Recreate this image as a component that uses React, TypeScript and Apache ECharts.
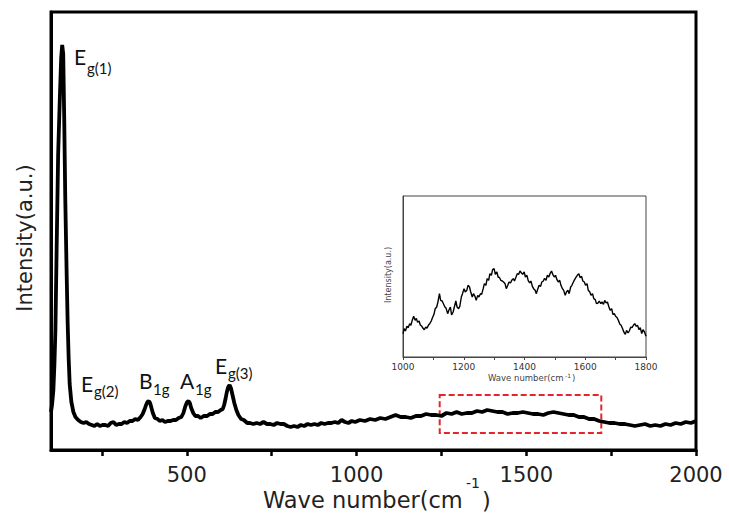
import React, { useEffect, useRef } from "react";
import * as echarts from "echarts";

// ---------- main spectrum (wave number, intensity in arbitrary units) ----------
const mainWave = [
  100, 103, 107, 110, 113, 117, 121, 126, 130, 133, 136, 139, 142, 146, 149, 152, 155, 160, 166, 172,
  180, 188, 196, 204, 212, 220, 228, 236, 244, 252, 260, 268, 276, 284, 292, 300, 308, 316, 324, 332,
  340, 348, 356, 364, 370, 376, 380, 384, 388, 392, 396, 400, 406, 414, 420, 428, 436, 444, 452, 460,
  468, 476, 484, 490, 496, 501, 505, 509, 513, 519, 525, 533, 541, 550, 560, 568, 576, 584, 592, 600,
  606, 610, 614, 618, 622, 626, 630, 634, 640, 646, 652, 660, 668, 678, 686, 696, 706, 716, 726, 736,
  746, 756, 766, 776, 786, 796, 806, 816, 826, 836, 846, 856, 866, 876, 886, 896, 906, 916, 926, 936,
  946, 956, 966, 976, 986, 996, 1010, 1025, 1040, 1055, 1070, 1085, 1100, 1115, 1130, 1145, 1160, 1175, 1190, 1205,
  1220, 1235, 1250, 1265, 1280, 1295, 1310, 1325, 1340, 1355, 1370, 1385, 1400, 1415, 1430, 1445, 1460, 1475, 1490, 1505,
  1520, 1535, 1550, 1565, 1580, 1595, 1610, 1625, 1640, 1655, 1670, 1685, 1700, 1715, 1730, 1745, 1760, 1775, 1790, 1805,
  1820, 1835, 1850, 1865, 1880, 1895, 1910, 1925, 1940, 1955, 1970, 1985, 2000,
];
const mainIntensity = [
  38, 45, 60, 85, 120, 210, 295, 352, 392, 405, 396, 330, 252, 178, 128, 92, 66, 48, 38, 33,
  30, 28, 27, 28, 26, 25, 24, 26, 24, 25, 25, 24, 27, 28, 25, 26, 26, 28, 27, 29,
  29, 31, 30, 33, 36, 41, 45, 48, 49, 47, 42, 37, 32, 31, 29, 30, 28, 29, 29, 30,
  30, 32, 33, 37, 44, 48, 49, 47, 42, 37, 34, 34, 32, 34, 34, 36, 36, 38, 38, 40,
  41, 45, 51, 58, 63, 65, 62, 56, 47, 40, 35, 31, 30, 27, 27, 26, 27, 26, 28, 26,
  26, 25, 27, 26, 26, 24, 23, 24, 23, 25, 24, 26, 25, 26, 25, 27, 26, 27, 27, 28,
  27, 30, 28, 27, 29, 28, 30, 29, 31, 30, 32, 31, 33, 35, 33, 33, 32, 34, 34, 36,
  35, 35, 34, 37, 36, 38, 36, 37, 37, 39, 38, 40, 39, 38, 38, 36, 37, 37, 38, 37,
  36, 36, 35, 37, 38, 37, 36, 35, 35, 33, 33, 31, 31, 29, 28, 27, 27, 26, 26, 25,
  24, 25, 26, 24, 25, 24, 26, 25, 27, 26, 28, 27, 29,
];

// ---------- inset spectrum (1000-1800 cm-1, zoomed intensity) ----------
const insetWave = [
  1000, 1004, 1008, 1013, 1017, 1022, 1026, 1031, 1035, 1040, 1044, 1048, 1053, 1057, 1062, 1066, 1070, 1075, 1079, 1084,
  1088, 1093, 1097, 1102, 1106, 1111, 1115, 1120, 1124, 1129, 1133, 1138, 1142, 1147, 1151, 1156, 1160, 1165, 1169, 1174,
  1178, 1183, 1187, 1192, 1196, 1201, 1205, 1210, 1214, 1219, 1223, 1228, 1232, 1237, 1241, 1246, 1250, 1255, 1259, 1264,
  1268, 1273, 1277, 1282, 1286, 1291, 1295, 1300, 1304, 1309, 1313, 1318, 1322, 1327, 1331, 1336, 1340, 1345, 1349, 1354,
  1358, 1363, 1367, 1372, 1376, 1381, 1385, 1390, 1394, 1399, 1403, 1408, 1412, 1417, 1421, 1426, 1430, 1435, 1439, 1444,
  1448, 1453, 1457, 1462, 1466, 1471, 1475, 1480, 1484, 1489, 1493, 1498, 1502, 1507, 1511, 1516, 1520, 1525, 1529, 1534,
  1538, 1543, 1547, 1552, 1556, 1561, 1565, 1570, 1574, 1579, 1583, 1588, 1592, 1597, 1601, 1606, 1610, 1615, 1619, 1624,
  1628, 1633, 1637, 1642, 1646, 1651, 1655, 1660, 1664, 1669, 1673, 1678, 1682, 1687, 1691, 1696, 1700, 1705, 1709, 1714,
  1718, 1723, 1727, 1732, 1736, 1741, 1745, 1750, 1754, 1759, 1763, 1768, 1772, 1777, 1781, 1786, 1790, 1795, 1800,
];
const insetIntensity = [
  70, 85, 78, 92, 88, 100, 95, 112, 122, 110, 116, 104, 108, 96, 92, 86, 82, 90, 86, 96,
  100, 108, 118, 128, 145, 150, 165, 190, 170, 168, 160, 150, 146, 130, 140, 150, 126, 135, 150, 168,
  150, 145, 152, 180, 190, 205, 195, 200, 215, 210, 195, 180, 190, 182, 170, 185, 180, 190, 188, 205,
  220, 215, 235, 230, 250, 245, 262, 265, 248, 255, 240, 238, 230, 228, 225, 220, 205, 215, 225, 222,
  230, 235, 228, 240, 250, 248, 258, 252, 248, 255, 240, 245, 230, 222, 228, 212, 205, 200, 190, 205,
  215, 212, 225, 228, 236, 230, 245, 240, 250, 258, 248, 240, 245, 232, 225, 230, 215, 205, 200, 185,
  195, 200, 190, 210, 215, 225, 232, 240, 245, 250, 238, 242, 228, 225, 215, 220, 200, 195, 185, 190,
  175, 172, 160, 162, 168, 160, 165, 158, 170, 162, 165, 150, 140, 145, 128, 130, 122, 118, 110, 98,
  95, 85, 75, 68, 80, 72, 78, 90, 88, 96, 100, 92, 95, 82, 88, 70, 82, 75, 62,
];

// axis ticks / labels
const mainTickValues = [250, 500, 750, 1000, 1250, 1500, 1750, 2000];
const mainLabelValues = [500, 1000, 1500, 2000];

// highlighted region (red dashed box) in data units
const boxWave = [1245, 1721];
const boxIntensity = [17, 55];

const AXIS_FONT = "DejaVu Sans";
const PEAK_FONT = "Lato";

function peakLabel(main: string, sub: string, x: number, y: number, subX: number, subY: number) {
  return [
    {
      type: "text",
      x,
      y,
      style: { text: main, fontSize: 21, fontFamily: PEAK_FONT, fill: "#111", align: "left", verticalAlign: "middle" },
    },
    {
      type: "text",
      x: subX,
      y: subY,
      style: { text: sub, fontSize: 15, fontFamily: PEAK_FONT, fill: "#111", align: "left", verticalAlign: "middle" },
    },
  ];
}

export default function App() {
  const ref = useRef<HTMLDivElement>(null);

  useEffect(() => {
    if (!ref.current) return;
    const chart = echarts.init(ref.current, undefined, { renderer: "svg" });

    const mainData = mainWave.map((w, i) => [w, mainIntensity[i]]);
    const insetData = insetWave.map((w, i) => [w, insetIntensity[i]]);

    const option: any = {
      animation: false,
      backgroundColor: "#fff",
      grid: [
        { left: 51, top: 12, width: 645, height: 438, show: true, borderColor: "#000", borderWidth: 3, backgroundColor: "transparent" },
        { left: 403, top: 196, width: 243, height: 161, show: true, borderColor: "#444", borderWidth: 1, backgroundColor: "#fff", z: 5 },
      ],
      xAxis: [
        {
          type: "value",
          gridIndex: 0,
          min: 100,
          max: 2000,
          axisLine: { show: true, lineStyle: { color: "#000", width: 3 } },
          axisTick: { show: true, inside: false, length: 6, lineStyle: { color: "#000", width: 2.5 }, customValues: mainTickValues },
          axisLabel: {
            customValues: mainLabelValues,
            fontSize: 21,
            fontFamily: AXIS_FONT,
            color: "#222",
            margin: 14,
            formatter: (v: number) => String(v),
          },
          splitLine: { show: false },
        },
        {
          type: "value",
          gridIndex: 1,
          min: 1000,
          max: 1800,
          interval: 100,
          axisLine: { show: true, lineStyle: { color: "#444", width: 1 } },
          axisTick: { show: true, inside: false, length: 3, lineStyle: { color: "#444", width: 1 } },
          axisLabel: {
            fontSize: 9,
            fontFamily: AXIS_FONT,
            color: "#333",
            margin: 5,
            formatter: (v: number) => (v % 200 === 0 ? String(v) : ""),
          },
          splitLine: { show: false },
          z: 6,
        },
      ],
      yAxis: [
        {
          type: "value",
          gridIndex: 0,
          min: 0,
          max: 438,
          axisLine: { show: true, lineStyle: { color: "#000", width: 3 } },
          axisTick: { show: false },
          axisLabel: { show: false },
          splitLine: { show: false },
        },
        {
          type: "value",
          gridIndex: 1,
          min: 0,
          max: 483,
          axisLine: { show: true, lineStyle: { color: "#444", width: 1 } },
          axisTick: { show: false },
          axisLabel: { show: false },
          splitLine: { show: false },
          z: 6,
        },
      ],
      series: [
        {
          type: "line",
          xAxisIndex: 0,
          yAxisIndex: 0,
          data: mainData,
          showSymbol: false,
          lineStyle: { color: "#000", width: 3.8 },
          markArea: {
            silent: true,
            itemStyle: { color: "rgba(0,0,0,0)", borderColor: "#e3262a", borderWidth: 2, borderType: [6, 3] },
            data: [[{ coord: [boxWave[0], boxIntensity[1]] }, { coord: [boxWave[1], boxIntensity[0]] }]],
          },
        },
        {
          type: "line",
          xAxisIndex: 1,
          yAxisIndex: 1,
          data: insetData,
          showSymbol: false,
          lineStyle: { color: "#000", width: 1.4 },
          z: 7,
        },
      ],
      graphic: [
        // main axis titles
        { type: "text", x: 263, y: 500, style: { text: "Wave number(cm", fontSize: 22.5, fontFamily: AXIS_FONT, fill: "#222", align: "left", verticalAlign: "middle" } },
        { type: "text", x: 466, y: 483, style: { text: "-1", fontSize: 14, fontFamily: AXIS_FONT, fill: "#222", align: "left", verticalAlign: "middle" } },
        { type: "text", x: 482, y: 501, style: { text: ")", fontSize: 22.5, fontFamily: AXIS_FONT, fill: "#222", align: "left", verticalAlign: "middle" } },
        { type: "text", x: 25, y: 238, rotation: Math.PI / 2, style: { text: "Intensity(a.u.)", fontSize: 21, fontFamily: AXIS_FONT, fill: "#222", align: "center", verticalAlign: "middle" } },
        // inset axis titles
        { type: "text", x: 488, y: 378, z: 10, style: { text: "Wave number(cm", fontSize: 8.5, fontFamily: AXIS_FONT, fill: "#444", align: "left", verticalAlign: "middle" } },
        { type: "text", x: 565, y: 375, z: 10, style: { text: "-1", fontSize: 6, fontFamily: AXIS_FONT, fill: "#444", align: "left", verticalAlign: "middle" } },
        { type: "text", x: 572, y: 378, z: 10, style: { text: ")", fontSize: 8.5, fontFamily: AXIS_FONT, fill: "#444", align: "left", verticalAlign: "middle" } },
        { type: "text", x: 388, y: 275, z: 10, rotation: Math.PI / 2, style: { text: "Intensity(a.u.)", fontSize: 8, fontFamily: AXIS_FONT, fill: "#444", align: "center", verticalAlign: "middle" } },
        // peak labels
        ...peakLabel("E", "g(1)", 74, 56, 87, 68),
        ...peakLabel("E", "g(2)", 81, 383, 94, 391),
        ...peakLabel("B", "1g", 139, 380, 153, 389),
        ...peakLabel("A", "1g", 180, 380, 195, 389),
        ...peakLabel("E", "g(3)", 215, 365, 228, 373),
      ],
    };

    chart.setOption(option);
    return () => chart.dispose();
  }, []);

  return <div ref={ref} style={{ position: "fixed", left: 0, top: 0, width: 729, height: 522 }} />;
}
